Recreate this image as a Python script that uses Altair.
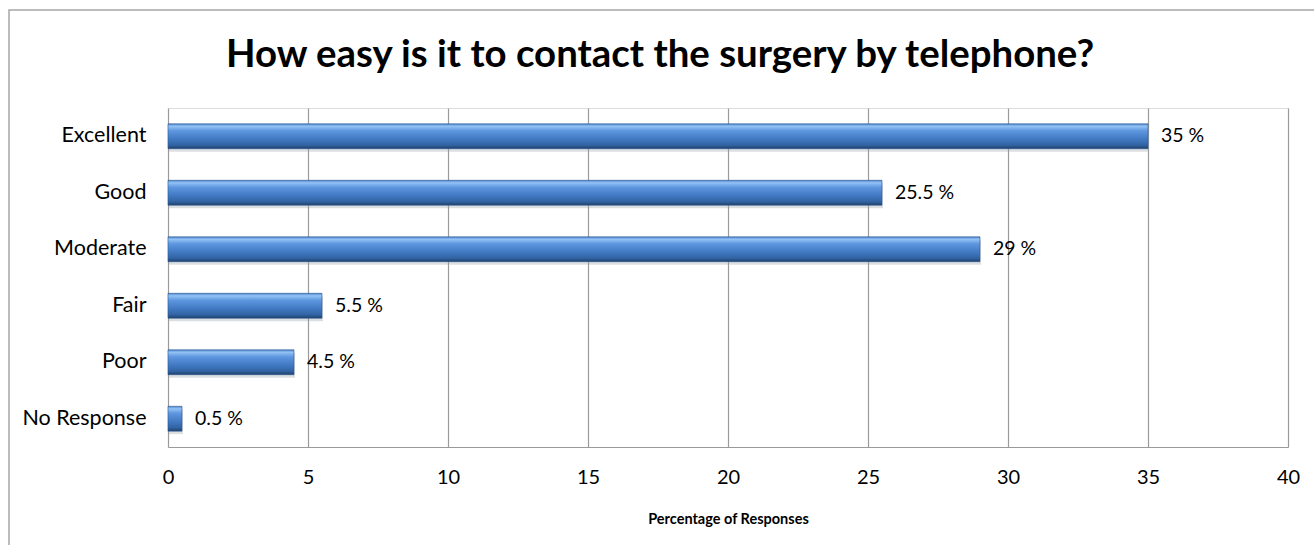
import altair as alt
import pandas as pd

# Survey answers and the share of responses for each
categories = ["Excellent", "Good", "Moderate", "Fair", "Poor", "No Response"]
percentages = [35, 25.5, 29, 5.5, 4.5, 0.5]
chart_title = "How easy is it to contact the surgery by telephone?"

df = pd.DataFrame({"answer": categories, "pct": percentages})
df["label"] = [f"{v:g} %" for v in percentages]

FONT = "Lato"

y_enc = alt.Y(
    "answer:N",
    sort=categories,
    scale=alt.Scale(paddingInner=0.56, paddingOuter=0.28),
    axis=alt.Axis(
        title=None, ticks=False, domain=False, grid=False,
        labelFont=FONT, labelFontSize=21.5, labelColor="#000000", labelPadding=22,
    ),
)
x_enc = alt.X(
    "pct:Q",
    scale=alt.Scale(domain=[0, 40], nice=False),
    axis=alt.Axis(
        title="Percentage of Responses", values=[0, 5, 10, 15, 20, 25, 30, 35, 40],
        ticks=False, domain=True, domainColor="#9a9a9a", domainWidth=1.2,
        grid=True, gridColor="#9a9a9a", gridWidth=1.2,
        labelFont=FONT, labelFontSize=20, labelColor="#000000", labelPadding=20,
        labelFlush=False,
        titleFont=FONT, titleFontSize=14.5, titleFontWeight="bold", titleColor="#000000",
        titlePadding=25,
    ),
)

base = alt.Chart(df)

# soft drop shadow under each bar
shadow = base.mark_bar(color="#9aa3ad", opacity=0.35, yOffset=3, xOffset=1).encode(
    y=y_enc, x=x_enc
)

# bevelled blue bars: light rim on top, darker underside
bars = base.mark_bar(
    stroke="#2c5896", strokeWidth=0.6,
    color=alt.Gradient(
        gradient="linear", x1=0, x2=0, y1=0, y2=1,
        stops=[
            alt.GradientStop(color="#4f86cc", offset=0),
            alt.GradientStop(color="#93c2f5", offset=0.1),
            alt.GradientStop(color="#5e97df", offset=0.28),
            alt.GradientStop(color="#427bc4", offset=0.6),
            alt.GradientStop(color="#3263a3", offset=0.86),
            alt.GradientStop(color="#1f4068", offset=1),
        ],
    ),
).encode(y=y_enc, x=x_enc)

labels = base.mark_text(
    align="left", baseline="middle", dx=13, font=FONT, fontSize=19.5, color="#000000"
).encode(y=y_enc, x=x_enc, text="label:N")

one_row = pd.DataFrame({"t": [chart_title]})

# outer frame around the whole chart
frame = alt.Chart(one_row).mark_rect(
    fill="transparent", stroke="#a6a6a6", strokeWidth=1.5
).encode(
    x=alt.value(-159), x2=alt.value(1200), y=alt.value(-98), y2=alt.value(600)
)

# chart heading, drawn as a text mark so the frame does not push it around
heading = alt.Chart(one_row).mark_text(
    font=FONT, fontSize=38.4, fontWeight="bold", color="#000000",
    align="center", baseline="alphabetic",
).encode(x=alt.value(492), y=alt.value(-41), text="t:N")

chart = (
    alt.layer(frame, shadow, bars, labels, heading)
    .properties(
        width=1120,
        height=339,
        autosize=alt.AutoSizeParams(type="none"),
        padding={"left": 168, "top": 108, "right": 26, "bottom": 98},
    )
    .configure_view(stroke=None)
    .configure(background="#ffffff")
)

chart.save("out.html", embed_options={"renderer": "svg", "actions": False})
